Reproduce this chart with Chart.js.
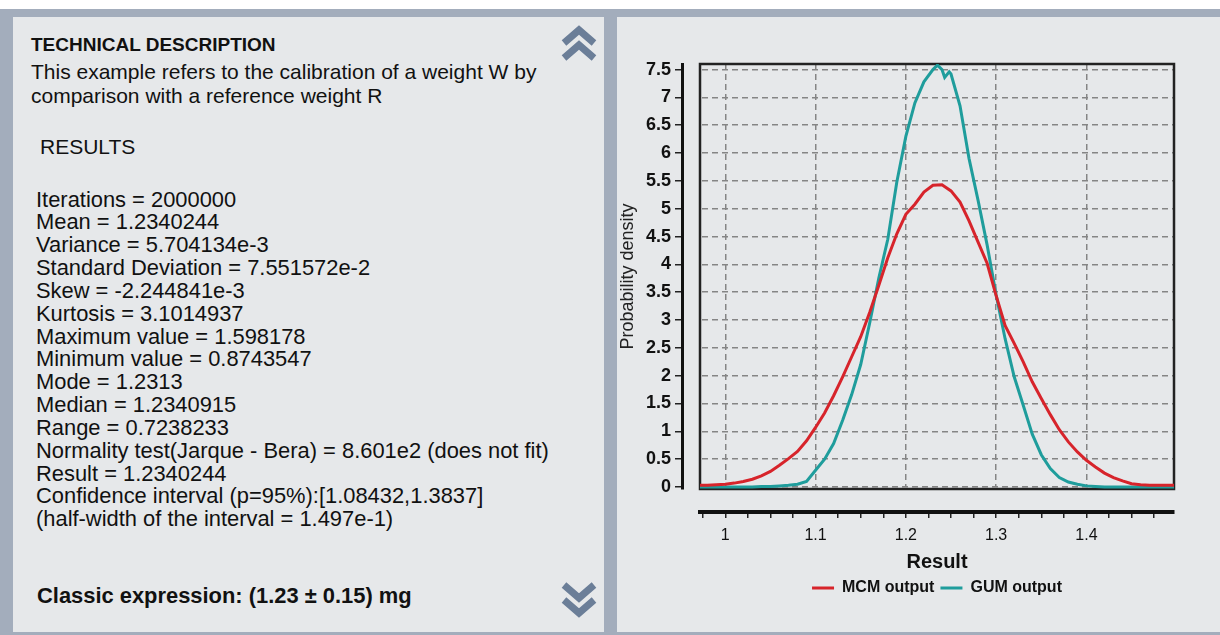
<!DOCTYPE html>
<html>
<head>
<meta charset="utf-8">
<script src="https://cdn.jsdelivr.net/npm/chart.js@4.4.1/dist/chart.umd.min.js"></script>
<style>
  body { margin: 0; width: 1220px; height: 635px; background: #fff; overflow: hidden;
         font-family: 'Liberation Sans', Arial, sans-serif; color: #111; }
  #frame { position: absolute; left: 0; top: 9px; width: 1220px; height: 626px; background: #a3adbc; }
  .panel { position: absolute; top: 17px; height: 615px; background: #e6e8ea; }
  #left { left: 13px; width: 591px; }
  #right { left: 617px; width: 603px; }
  .txt { position: absolute; white-space: nowrap; }
  .chev { position: absolute; }
</style>
</head>
<body>
<div id="frame"></div>
<div class="panel" id="left"></div>
<div class="panel" id="right">
  <canvas id="densityChart"></canvas>
</div>

<div class="txt" style="left:31px; top:33px; font-size:19px; line-height:24px; font-weight:bold;">TECHNICAL DESCRIPTION</div>
<div class="txt" style="left:31px; top:60px; font-size:21px; line-height:24px;">This example refers to the calibration of a weight W by<br>comparison with a reference weight R</div>
<div class="txt" style="left:40px; top:135px; font-size:21px; line-height:24px;">RESULTS</div>
<div class="txt" style="left:36px; top:188.5px; font-size:21.9px; line-height:22.85px;">
Iterations = 2000000<br>
Mean = 1.2340244<br>
Variance = 5.704134e-3<br>
Standard Deviation = 7.551572e-2<br>
Skew = -2.244841e-3<br>
Kurtosis = 3.1014937<br>
Maximum value = 1.598178<br>
Minimum value = 0.8743547<br>
Mode = 1.2313<br>
Median = 1.2340915<br>
Range = 0.7238233<br>
Normality test(Jarque - Bera) = 8.601e2 (does not fit)<br>
Result = 1.2340244<br>
Confidence interval (p=95%):[1.08432,1.3837]<br>
(half-width of the interval = 1.497e-1)
</div>
<div class="txt" style="left:37px; top:584px; font-size:21.9px; line-height:24px; font-weight:bold;">Classic expression: (1.23 ± 0.15) mg</div>

<svg class="chev" style="left:561px; top:24px;" width="36" height="38" viewBox="0 0 36 38">
  <path d="M3 19 L18 6 L33 19 M3 34 L18 21 L33 34" fill="none" stroke="#6b7e98" stroke-width="7"/>
</svg>
<svg class="chev" style="left:561px; top:581px;" width="36" height="38" viewBox="0 0 36 38">
  <path d="M3 4 L18 17 L33 4 M3 19 L18 32 L33 19" fill="none" stroke="#6b7e98" stroke-width="7"/>
</svg>

<script>
// MCM output
const mcmX = [0.97, 0.98, 0.99, 1.00, 1.01, 1.02, 1.03, 1.04, 1.05, 1.06, 1.07, 1.08, 1.09,
  1.10, 1.11, 1.12, 1.13, 1.14, 1.15, 1.16, 1.17, 1.18, 1.19, 1.20, 1.21, 1.22, 1.23, 1.24,
  1.25, 1.26, 1.27, 1.28, 1.29, 1.30, 1.31, 1.32, 1.33, 1.34, 1.35, 1.36, 1.37, 1.38, 1.39,
  1.40, 1.41, 1.42, 1.43, 1.44, 1.45, 1.46, 1.47, 1.48, 1.49, 1.50];
const mcmY = [0.03, 0.03, 0.04, 0.05, 0.07, 0.10, 0.14, 0.20, 0.28, 0.39, 0.51, 0.64, 0.83,
  1.07, 1.33, 1.64, 1.98, 2.34, 2.70, 3.14, 3.62, 4.12, 4.55, 4.90, 5.08, 5.30, 5.42, 5.43,
  5.32, 5.12, 4.78, 4.40, 4.02, 3.44, 2.90, 2.58, 2.25, 1.89, 1.59, 1.30, 1.03, 0.81, 0.63,
  0.48, 0.36, 0.25, 0.17, 0.11, 0.06, 0.04, 0.03, 0.03, 0.03, 0.03];

// GUM output
const gumX = [0.97, 0.98, 0.99, 1.00, 1.01, 1.02, 1.03, 1.04, 1.05, 1.06, 1.07, 1.08, 1.09,
  1.10, 1.11, 1.12, 1.13, 1.14, 1.15, 1.16, 1.17, 1.18, 1.19, 1.20, 1.21, 1.22, 1.23, 1.235,
  1.24, 1.243, 1.248, 1.25, 1.26, 1.27, 1.28, 1.29, 1.30, 1.31, 1.32, 1.33, 1.34, 1.35, 1.36,
  1.37, 1.38, 1.39, 1.40, 1.41, 1.42, 1.43, 1.44, 1.45, 1.46, 1.47, 1.48, 1.49, 1.50];
const gumY = [0.00, 0.00, 0.00, 0.00, 0.00, 0.00, 0.00, 0.01, 0.01, 0.02, 0.03, 0.05, 0.10,
  0.30, 0.50, 0.78, 1.20, 1.66, 2.20, 2.95, 3.75, 4.45, 5.48, 6.30, 6.90, 7.28, 7.50, 7.58,
  7.50, 7.36, 7.46, 7.42, 6.85, 5.90, 5.15, 4.35, 3.45, 2.66, 1.98, 1.47, 0.95, 0.58, 0.33,
  0.17, 0.09, 0.05, 0.02, 0.01, 0.00, 0.00, 0.00, 0.00, 0.00, 0.00, 0.00, 0.00, 0.00];

const xTickValues = [0.975, 1, 1.025, 1.05, 1.075, 1.1, 1.125, 1.15, 1.175, 1.2, 1.225,
  1.25, 1.275, 1.3, 1.325, 1.35, 1.375, 1.4, 1.425, 1.45, 1.475];
const xTickLabels = [1, 1.1, 1.2, 1.3, 1.4];
const yTickValues = [0, 0.5, 1, 1.5, 2, 2.5, 3, 3.5, 4, 4.5, 5, 5.5, 6, 6.5, 7, 7.5];

const isLabelled = v => xTickLabels.some(t => Math.abs(t - v) < 1e-6);

Chart.defaults.font.family = "'Liberation Sans', Arial, sans-serif";
Chart.defaults.color = '#111';

// black frame round the plot area
const plotFrame = {
    id: 'plotFrame',
    beforeDatasetsDraw(chart) {
        const { ctx, chartArea: a } = chart;
        ctx.save();
        ctx.strokeStyle = '#222';
        ctx.lineWidth = 2.5;
        ctx.strokeRect(a.left, a.top, a.right - a.left, a.bottom - a.top);
        ctx.restore();
    }
};

const holder = document.getElementById('right');
const canvas = document.getElementById('densityChart');
canvas.style.width = holder.clientWidth + 'px';
canvas.style.height = holder.clientHeight + 'px';

new Chart(canvas, {
    type: 'line',
    data: {
        datasets: [{
            label: 'MCM output',
            data: mcmX.map((x, i) => ({ x, y: mcmY[i] })),
            borderColor: '#d7242b',
            backgroundColor: '#d7242b',
            borderWidth: 3,
            pointRadius: 0,
            tension: 0,
            xAxisID: 'x',
            yAxisID: 'y'
        }, {
            label: 'GUM output',
            data: gumX.map((x, i) => ({ x, y: gumY[i] })),
            borderColor: '#1f9d9c',
            backgroundColor: '#1f9d9c',
            borderWidth: 3,
            pointRadius: 0,
            tension: 0,
            xAxisID: 'x',
            yAxisID: 'y'
        }]
    },
    options: {
        responsive: false,
        animation: false,
        layout: { padding: { left: 0, top: 47, right: 46, bottom: 26 } },
        plugins: {
            tooltip: { enabled: false },
            legend: {
                position: 'bottom',
                fullSize: false,
                labels: {
                    usePointStyle: true,
                    pointStyle: 'line',
                    pointStyleWidth: 22,
                    padding: 6,
                    color: '#111',
                    font: { size: 16, weight: 'bold' }
                }
            }
        },
        scales: {
            x: {
                type: 'linear',
                position: 'bottom',
                weight: 1,
                min: 0.972,
                max: 1.497,
                afterBuildTicks: s => { s.ticks = xTickValues.map(v => ({ value: v })); },
                afterFit: s => { s.height = 62; },
                ticks: {
                    autoSkip: false,
                    maxRotation: 0,
                    padding: 8,
                    color: '#111',
                    font: { size: 16 },
                    callback: v => isLabelled(v) ? String(+v.toFixed(1)) : ''
                },
                grid: {
                    color: c => (c.tick && isLabelled(c.tick.value)) ? '#858585' : 'rgba(0,0,0,0)',
                    lineWidth: 1.5,
                    tickColor: '#222',
                    tickLength: 6,
                    tickWidth: 1.5
                },
                border: { color: '#111', width: 4, dash: [6, 4] },
                title: {
                    display: true,
                    text: 'Result',
                    color: '#111',
                    font: { size: 20, weight: 'bold' },
                    padding: { top: 0, bottom: 0 }
                }
            },
            xGap: {
                type: 'linear',
                position: 'bottom',
                weight: 0,
                afterFit: s => { s.height = 23; },
                ticks: { display: false },
                grid: { display: false },
                border: { display: false }
            },
            y: {
                type: 'linear',
                position: 'left',
                weight: 1,
                min: -0.036,
                max: 7.6,
                afterBuildTicks: s => { s.ticks = yTickValues.map(v => ({ value: v })); },
                afterFit: s => { s.width = 65; },
                ticks: {
                    padding: 4,
                    color: '#111',
                    font: { size: 18, weight: 'bold' },
                    callback: v => String(v)
                },
                grid: {
                    color: '#858585',
                    lineWidth: 1.5,
                    tickColor: '#222',
                    tickLength: 7,
                    tickWidth: 1.5
                },
                border: { color: '#111', width: 3, dash: [6, 4] },
                title: {
                    display: true,
                    text: 'Probability density',
                    color: '#222',
                    font: { size: 18 },
                    padding: { top: 0, bottom: 0 }
                }
            },
            yGap: {
                type: 'linear',
                position: 'left',
                weight: 0,
                afterFit: s => { s.width = 18; },
                ticks: { display: false },
                grid: { display: false },
                border: { display: false }
            }
        }
    },
    plugins: [plotFrame]
});
</script>
</body>
</html>
